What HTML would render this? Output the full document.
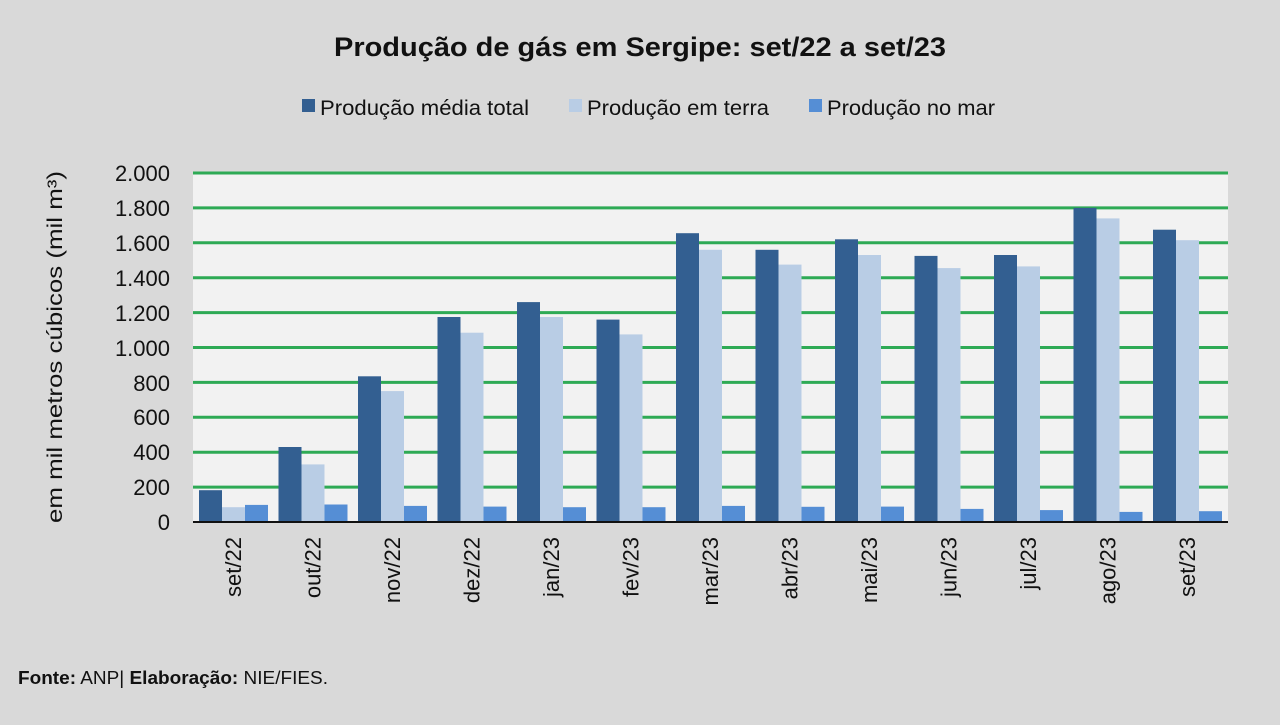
<!DOCTYPE html>
<html><head><meta charset="utf-8"><style>html,body{margin:0;padding:0;background:#d9d9d9}</style></head><body>
<svg width="1280" height="720" xmlns="http://www.w3.org/2000/svg" font-family="Liberation Sans, sans-serif">
<rect width="1280" height="720" fill="#d9d9d9"/>
<text x="640" y="56" text-anchor="middle" font-size="27" font-weight="bold" fill="#111" textLength="612" lengthAdjust="spacingAndGlyphs">Produção de gás em Sergipe: set/22 a set/23</text>
<rect x="302" y="99" width="13" height="13" fill="#335f91"/>
<text x="320" y="115" font-size="21" fill="#111" textLength="209" lengthAdjust="spacingAndGlyphs">Produção média total</text>
<rect x="569" y="99" width="13" height="13" fill="#b9cde5"/>
<text x="587" y="115" font-size="21" fill="#111" textLength="182" lengthAdjust="spacingAndGlyphs">Produção em terra</text>
<rect x="809" y="99" width="13" height="13" fill="#558ed5"/>
<text x="827" y="115" font-size="21" fill="#111" textLength="168" lengthAdjust="spacingAndGlyphs">Produção no mar</text>
<rect x="193" y="173" width="1035" height="349" fill="#f2f2f2"/>
<g stroke="#2eaa55" stroke-width="3">
<line x1="193" x2="1228" y1="173" y2="173"/><line x1="193" x2="1228" y1="207.9" y2="207.9"/><line x1="193" x2="1228" y1="242.8" y2="242.8"/><line x1="193" x2="1228" y1="277.7" y2="277.7"/><line x1="193" x2="1228" y1="312.6" y2="312.6"/><line x1="193" x2="1228" y1="347.5" y2="347.5"/><line x1="193" x2="1228" y1="382.4" y2="382.4"/><line x1="193" x2="1228" y1="417.3" y2="417.3"/><line x1="193" x2="1228" y1="452.2" y2="452.2"/><line x1="193" x2="1228" y1="487.1" y2="487.1"/>
</g>
<g font-size="22" fill="#111" text-anchor="end">
<text x="170" y="181">2.000</text><text x="170" y="216">1.800</text><text x="170" y="251">1.600</text><text x="170" y="286">1.400</text><text x="170" y="321">1.200</text><text x="170" y="356">1.000</text><text x="170" y="391">800</text><text x="170" y="425">600</text><text x="170" y="460">400</text><text x="170" y="495">200</text><text x="170" y="530">0</text>
</g>
<text transform="translate(62,347) rotate(-90)" text-anchor="middle" font-size="21" fill="#111" textLength="352" lengthAdjust="spacingAndGlyphs">em mil metros cúbicos (mil m³)</text>
<g transform="translate(0,522) scale(1,-1)">
<g fill="#335f91">
<rect x="199" y="0" width="23" height="31.8"/><rect x="278.5" y="0" width="23" height="75"/><rect x="358" y="0" width="23" height="145.7"/><rect x="437.5" y="0" width="23" height="205"/><rect x="517" y="0" width="23" height="219.9"/><rect x="596.5" y="0" width="23" height="202.4"/><rect x="676" y="0" width="23" height="288.8"/><rect x="755.5" y="0" width="23" height="272.2"/><rect x="835" y="0" width="23" height="282.7"/><rect x="914.5" y="0" width="23" height="266.1"/><rect x="994" y="0" width="23" height="267"/><rect x="1073.5" y="0" width="23" height="314.1"/><rect x="1153" y="0" width="23" height="292.3"/>
</g>
<g fill="#b9cde5">
<rect x="222" y="0" width="23" height="14.8"/><rect x="301.5" y="0" width="23" height="57.6"/><rect x="381" y="0" width="23" height="130.9"/><rect x="460.5" y="0" width="23" height="189.3"/><rect x="540" y="0" width="23" height="205"/><rect x="619.5" y="0" width="23" height="187.6"/><rect x="699" y="0" width="23" height="272.2"/><rect x="778.5" y="0" width="23" height="257.4"/><rect x="858" y="0" width="23" height="267"/><rect x="937.5" y="0" width="23" height="253.9"/><rect x="1017" y="0" width="23" height="255.6"/><rect x="1096.5" y="0" width="23" height="303.6"/><rect x="1176" y="0" width="23" height="281.8"/>
</g>
<g fill="#558ed5">
<rect x="245" y="0" width="23" height="17.1"/><rect x="324.5" y="0" width="23" height="17.5"/><rect x="404" y="0" width="23" height="16.1"/><rect x="483.5" y="0" width="23" height="15.4"/><rect x="563" y="0" width="23" height="14.8"/><rect x="642.5" y="0" width="23" height="14.8"/><rect x="722" y="0" width="23" height="16.1"/><rect x="801.5" y="0" width="23" height="15.2"/><rect x="881" y="0" width="23" height="15.4"/><rect x="960.5" y="0" width="23" height="13.1"/><rect x="1040" y="0" width="23" height="11.9"/><rect x="1119.5" y="0" width="23" height="10.1"/><rect x="1199" y="0" width="23" height="10.8"/>
</g>
</g>
<line x1="193" x2="1228" y1="522" y2="522" stroke="#111" stroke-width="2"/>
<g font-size="22" fill="#111" text-anchor="end">
<text transform="translate(241,537) rotate(-90)">set/22</text>
<text transform="translate(320.5,537) rotate(-90)">out/22</text>
<text transform="translate(400,537) rotate(-90)">nov/22</text>
<text transform="translate(479.5,537) rotate(-90)">dez/22</text>
<text transform="translate(559,537) rotate(-90)">jan/23</text>
<text transform="translate(638.5,537) rotate(-90)">fev/23</text>
<text transform="translate(718,537) rotate(-90)">mar/23</text>
<text transform="translate(797.5,537) rotate(-90)">abr/23</text>
<text transform="translate(877,537) rotate(-90)">mai/23</text>
<text transform="translate(956.5,537) rotate(-90)">jun/23</text>
<text transform="translate(1036,537) rotate(-90)">jul/23</text>
<text transform="translate(1115.5,537) rotate(-90)">ago/23</text>
<text transform="translate(1195,537) rotate(-90)">set/23</text>
</g>
<text x="18" y="684" font-size="18" fill="#111" textLength="310" lengthAdjust="spacingAndGlyphs"><tspan font-weight="bold">Fonte:</tspan> ANP| <tspan font-weight="bold">Elaboração:</tspan> NIE/FIES.</text>
</svg>
</body></html>
